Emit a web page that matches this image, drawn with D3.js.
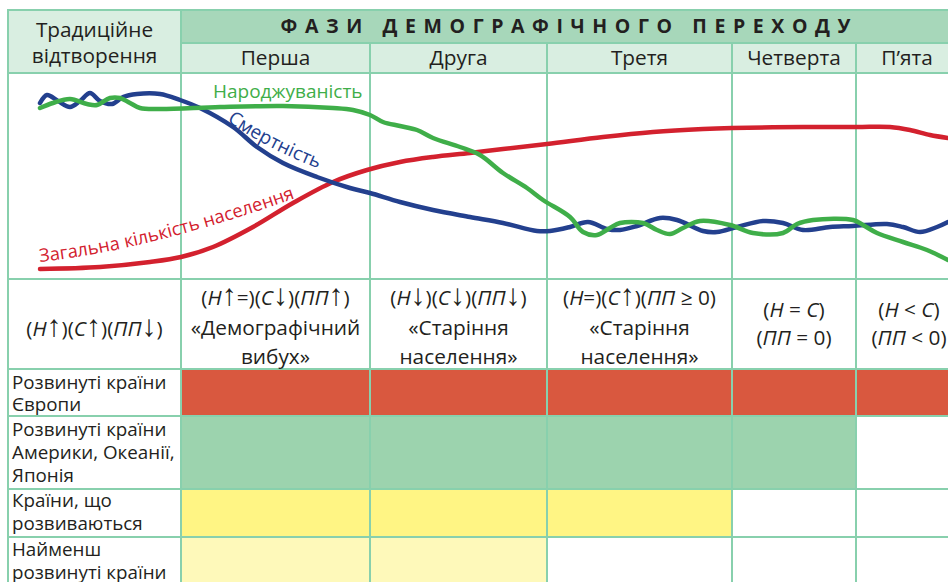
<!DOCTYPE html>
<html>
<head>
<meta charset="utf-8">
<script src="https://cdn.jsdelivr.net/npm/d3@7"></script>
<style>
  html, body { margin: 0; padding: 0; background: #fff; }
  svg { display: block; font-family: "Open Sans", "Noto Sans", sans-serif; }
</style>
</head>
<body>
<svg id="chart" width="948" height="582"></svg>
<script>
// ---- Table content ----
const traditionalTitle = ["Традиційне", "відтворення"];
const mainTitle = "ФАЗИ ДЕМОГРАФІЧНОГО ПЕРЕХОДУ";
const phaseNames = ["Перша", "Друга", "Третя", "Четверта", "П’ята"];

// Formula / description lines for the traditional column and each phase
const phaseFormulas = [
  ["(Н↑)(С↑)(ПП↓)"],
  ["(Н↑=)(С↓)(ПП↑)", "«Демографічний", "вибух»"],
  ["(Н↓)(С↓)(ПП↓)", "«Старіння", "населення»"],
  ["(Н=)(С↑)(ПП ≥ 0)", "«Старіння", "населення»"],
  ["(Н = С)", "(ПП = 0)"],
  ["(Н < С)", "(ПП < 0)"]
];

// Country groups and how many phases each has passed through
const regionNames = [
  ["Розвинуті країни", "Європи"],
  ["Розвинуті країни", "Америки, Океанії,", "Японія"],
  ["Країни, що", "розвиваються"],
  ["Найменш", "розвинуті країни"]
];
const regionPhaseCount = [5, 4, 3, 2];

// ---- Curves: [time, level] in conventional units ----
const seriesNames = ["Загальна кількість населення", "Смертність", "Народжуваність"];

const populationTotal = [
  [32, 10], [92, 12], [142, 17], [173, 22], [205, 32], [245, 52], [285, 76],
  [325, 97], [359, 109], [392, 117], [425, 122], [462, 126], [495, 130],
  [539, 135], [595, 142], [645, 147], [695, 150], [724, 151], [795, 152],
  [849, 152], [882, 152], [902, 149], [922, 144], [940, 141]
];

const mortality = [
  [32, 176], [39, 184], [50, 178], [62, 172], [72, 178], [82, 186], [92, 178],
  [104, 175], [115, 182], [129, 185], [152, 185], [172, 179], [192, 171],
  [225, 152], [249, 132], [275, 116], [309, 102], [342, 91], [362, 86],
  [392, 77], [425, 69], [462, 62], [495, 56], [529, 48], [542, 48], [562, 52],
  [580, 57], [599, 50], [612, 49], [629, 53], [652, 61], [669, 59], [695, 48],
  [709, 47], [729, 52], [755, 58], [775, 56], [795, 49], [822, 52], [845, 53],
  [879, 55], [895, 52], [912, 47], [929, 52], [940, 57]
];

const birthRate = [
  [32, 171], [45, 176], [62, 180], [79, 175], [89, 174], [102, 181], [112, 181],
  [122, 176], [132, 171], [152, 170], [212, 172], [275, 173], [325, 171],
  [345, 169], [362, 164], [375, 157], [392, 153], [409, 149], [425, 141],
  [452, 132], [472, 124], [495, 106], [519, 91], [535, 79], [562, 62],
  [575, 47], [589, 44], [602, 51], [612, 56], [635, 56], [649, 49], [662, 45],
  [675, 51], [692, 58], [722, 54], [745, 46], [775, 46], [789, 55], [805, 59],
  [845, 59], [855, 54], [869, 46], [895, 37], [919, 29], [940, 19]
];

// ---- Layout ----
const colX = [8, 181, 370, 547, 732, 856, 962];
const rowTop = 10, rowTitle = 43, rowPhase = 73, rowChart = 279, rowFormula = 369;
const regionRowY = [369, 416, 489, 537, 610];

const gridColor = "#88d0ad";
const textColor = "#231f20";
const headerDark = "#a7d7ba";
const headerLight = "#d9eee1";
const regionFill = ["#d9583f", "#9cd3ae", "#fff584", "#fef9ba"];
const lineColors = ["#d3212e", "#23408e", "#3fae49"];
const tableFont = 20.8;

const svg = d3.select("#chart");
svg.append("rect").attr("width", 948).attr("height", 582).attr("fill", "#fff");

const cells = svg.append("g");
const texts = svg.append("g").attr("fill", textColor);

function cell(x0, y0, x1, y1, fill) {
  cells.append("rect")
    .attr("x", x0).attr("y", y0)
    .attr("width", x1 - x0).attr("height", y1 - y0)
    .attr("fill", fill)
    .attr("stroke", gridColor).attr("stroke-width", 2);
}

// header cells
cell(colX[0], rowTop, colX[1], rowPhase, headerLight);
cell(colX[1], rowTop, colX[6], rowTitle, headerDark);
phaseNames.forEach((p, i) => cell(colX[i + 1], rowTitle, colX[i + 2], rowPhase, headerLight));
// chart row and formula row
for (let i = 0; i < 6; i++) {
  cell(colX[i], rowPhase, colX[i + 1], rowChart, "#fff");
  cell(colX[i], rowChart, colX[i + 1], rowFormula, "#fff");
}
// region rows
regionNames.forEach((r, ri) => {
  cell(colX[0], regionRowY[ri], colX[1], regionRowY[ri + 1], "#fff");
  for (let i = 0; i < 5; i++) {
    const filled = i < regionPhaseCount[ri];
    cell(colX[i + 1], regionRowY[ri], colX[i + 2], regionRowY[ri + 1], filled ? regionFill[ri] : "#fff");
  }
});

// header texts
texts.selectAll("text.trad").data(traditionalTitle).join("text")
  .attr("x", (colX[0] + colX[1]) / 2)
  .attr("y", (d, i) => 37 + i * 26)
  .attr("text-anchor", "middle")
  .attr("font-size", tableFont)
  .text(d => d);

texts.append("text")
  .attr("x", (colX[1] + 948) / 2 + 1)
  .attr("y", 33)
  .attr("text-anchor", "middle")
  .attr("font-size", 19.5)
  .attr("font-weight", 700)
  .attr("textLength", 570)
  .attr("lengthAdjust", "spacing")
  .text(mainTitle);

texts.selectAll("text.phase").data(phaseNames).join("text")
  .attr("x", (d, i) => (colX[i + 1] + Math.min(colX[i + 2], 958)) / 2)
  .attr("y", 65)
  .attr("text-anchor", "middle")
  .attr("font-size", tableFont)
  .text(d => d);

// formula texts: capital Н, С, П in formula lines are italic, arrows drawn thin and tall
const formulaBaselines = { 1: [336], 2: [317, 345], 3: [305, 335, 364] };
phaseFormulas.forEach((lines, ci) => {
  const cx = (colX[ci] + colX[ci + 1]) / 2;
  lines.forEach((line, li) => {
    const t = texts.append("text")
      .attr("x", cx)
      .attr("y", formulaBaselines[lines.length][li])
      .attr("text-anchor", "middle")
      .attr("font-size", tableFont)
      .style("white-space", "pre");
    if (line.startsWith("(")) {
      const runs = line.match(/[НСП]+|[↑↓]|[^НСП↑↓]+/g);
      runs.forEach(run => {
        const span = t.append("tspan").text(run);
        if (/^[НСП]+$/.test(run)) span.attr("font-style", "italic");
        if (/^[↑↓]$/.test(run)) {
          span.attr("font-family", "'Liberation Sans', 'DejaVu Sans', sans-serif")
            .attr("font-size", 30)
            .attr("font-weight", 300);
        }
      });
    } else {
      t.text(line);
    }
  });
});

// region labels
const regionBaselines = [[389, 411], [436, 459, 482], [507, 530], [556, 579]];
regionNames.forEach((lines, ri) => {
  lines.forEach((line, li) => {
    texts.append("text")
      .attr("x", 12)
      .attr("y", regionBaselines[ri][li])
      .attr("font-size", 18.8)
      .text(line);
  });
});

// ---- Curves ----
const x = d3.scaleLinear().domain([0, 940]).range([8, 948]);
const y = d3.scaleLinear().domain([0, 206]).range([279, 73]);
const line = d3.line()
  .x(d => x(d[0]))
  .y(d => y(d[1]))
  .curve(d3.curveCatmullRom.alpha(0.5));

svg.append("clipPath").attr("id", "plotClip")
  .append("rect").attr("x", 8).attr("y", 74).attr("width", 940).attr("height", 204);

const plot = svg.append("g").attr("clip-path", "url(#plotClip)");
[populationTotal, mortality, birthRate].forEach((s, i) => {
  plot.append("path")
    .attr("d", line(s))
    .attr("fill", "none")
    .attr("stroke", lineColors[i])
    .attr("stroke-width", 4.5)
    .attr("stroke-linecap", "round")
    .attr("stroke-linejoin", "round");
});

// curved guide paths for the series labels that follow their lines
const defs = svg.append("defs");
defs.append("path").attr("id", "popLabelPath")
  .attr("d", "M40,262 Q152,250 310,193");
defs.append("path").attr("id", "mortLabelPath")
  .attr("d", "M227,121 Q268,150 332,174");

const labels = svg.append("g").attr("font-size", 19);
labels.append("text")
  .attr("x", 213).attr("y", 98)
  .attr("fill", lineColors[2])
  .text(seriesNames[2]);
labels.append("text")
  .attr("fill", lineColors[1])
  .append("textPath").attr("href", "#mortLabelPath")
  .text(seriesNames[1]);
labels.append("text")
  .attr("fill", lineColors[0])
  .attr("font-size", 18.3)
  .append("textPath").attr("href", "#popLabelPath")
  .text(seriesNames[0]);
</script>
</body>
</html>
